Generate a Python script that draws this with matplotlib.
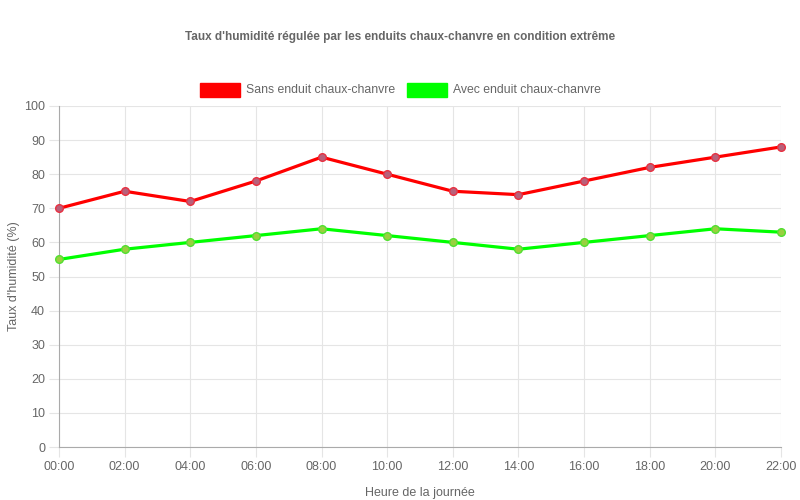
import matplotlib
matplotlib.use('Agg')
import matplotlib.pyplot as plt
from matplotlib.patches import Rectangle

plt.rcParams['font.family'] = ['Liberation Sans', 'DejaVu Sans']

heures = ['00:00', '02:00', '04:00', '06:00', '08:00', '10:00',
          '12:00', '14:00', '16:00', '18:00', '20:00', '22:00']
sans_enduit = [70, 75, 72, 78, 85, 80, 75, 74, 78, 82, 85, 88]
avec_enduit = [55, 58, 60, 62, 64, 62, 60, 58, 60, 62, 64, 63]

grey = '#666666'
fig = plt.figure(figsize=(8, 5), dpi=100)
ax = fig.add_axes([59/800, 1 - 447/500, (781 - 59)/800, (447 - 106)/500])

x = list(range(len(heures)))
ax.plot(x, sans_enduit, color='#ff0000', lw=2.3, marker='o', ms=5.5,
        mfc='#b8607a', mec='#e83040', mew=1, zorder=3, clip_on=False)
ax.plot(x, avec_enduit, color='#00ff00', lw=2.3, marker='o', ms=5.5,
        mfc='#98d040', mec='#50e030', mew=1, zorder=3, clip_on=False)

ax.set_xlim(0, len(heures) - 1)
ax.set_ylim(0, 100)
ax.set_xticks(x)
ax.set_xticklabels(heures)
ax.set_yticks(range(0, 101, 10))
ax.grid(True, color='#e5e5e5', lw=0.8)
ax.set_axisbelow(True)
ax.tick_params(colors='#e5e5e5', labelcolor=grey, labelsize=9, length=7, width=0.8, pad=3)
for s in ['top', 'right']:
    ax.spines[s].set_visible(False)
ax.spines['left'].set_color('#aaaaaa')
ax.spines['bottom'].set_color('#aaaaaa')

ax.set_xlabel('Heure de la journée', color=grey, fontsize=9, labelpad=10)
ax.set_ylabel("Taux d'humidité (%)", color=grey, fontsize=9, labelpad=3)

fig.text(0.5, 1 - 37/500, "Taux d'humidité régulée par les enduits chaux-chanvre en condition extrême",
         ha='center', va='center', fontsize=8.5, fontweight='bold', color=grey)

# legend like Chart.js
legend = [('Sans enduit chaux-chanvre', '#ff0000', 200),
          ('Avec enduit chaux-chanvre', '#00ff00', 407)]
for label, col, px in legend:
    fig.patches.append(Rectangle((px/800, 1 - 97/500), 40/800, 14/500,
                                 transform=fig.transFigure, color=col))
    fig.text((px + 46)/800, 1 - 90/500, label, ha='left', va='center',
             fontsize=8.8, color=grey)

fig.savefig('out.png', dpi=100)
